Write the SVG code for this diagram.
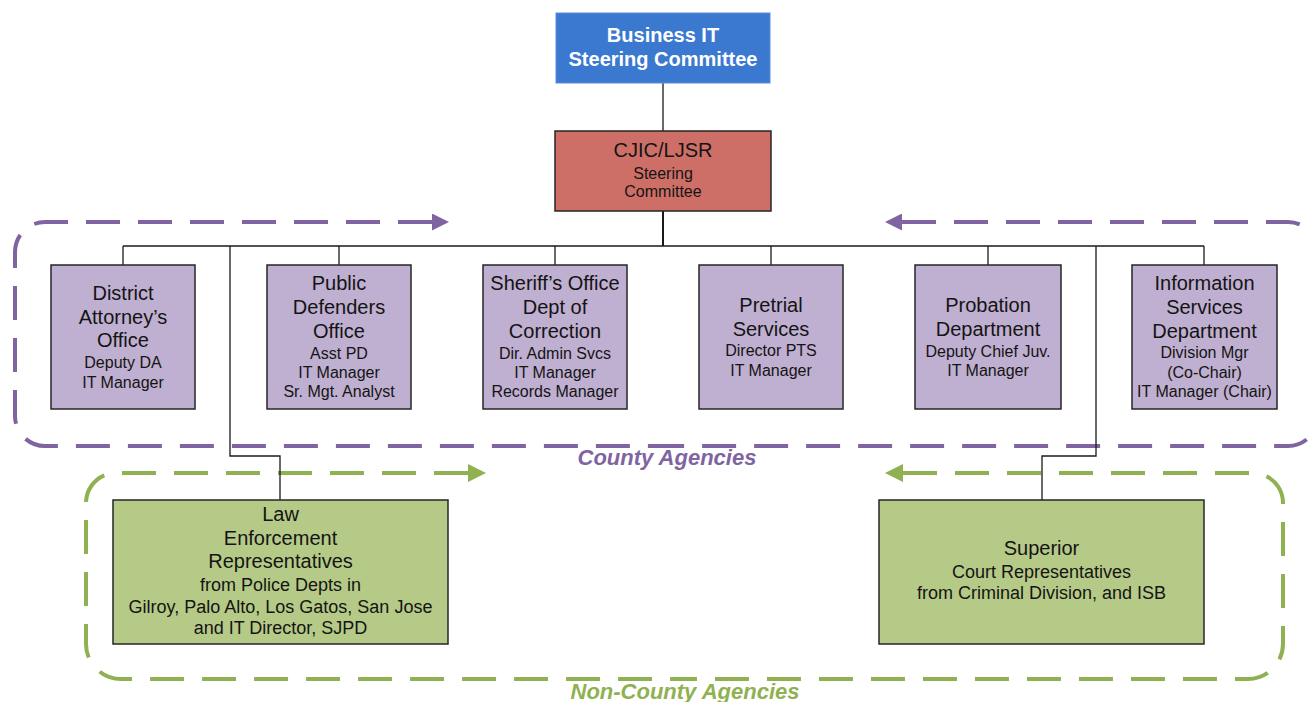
<svg xmlns="http://www.w3.org/2000/svg" width="1311" height="702" viewBox="0 0 1311 702">
  <style>
    text { font-family: "Liberation Sans", Arial, sans-serif; fill: #141414; text-anchor: middle; }
    .t { font-size: 20px; }
    .s { font-size: 16px; }
    .s18 { font-size: 18px; }
    .hd { font-size: 20px; font-weight: bold; fill: #ffffff; }
    .box { stroke: #262626; stroke-width: 1.5; }
    .agency { fill: #bfafd0; }
    .ext { fill: #b6ca87; }
    .link { fill: none; stroke: #1a1a1a; stroke-width: 1.3; }
    .loop { fill: none; stroke-width: 4; stroke-dasharray: 34 18; }
    .purple { stroke: #8064a2; }
    .green { stroke: #8fb151; }
    .lbl { font-size: 22px; font-weight: bold; font-style: italic; }
  </style>
  <defs>
    <marker id="arrowPurple" markerUnits="userSpaceOnUse" markerWidth="17" markerHeight="17" viewBox="0 0 17 17" refX="0" refY="8.5" orient="auto-start-reverse">
      <path d="M0,0 L17,8.5 L0,17 Z" fill="#8064a2"/>
    </marker>
    <marker id="arrowGreen" markerUnits="userSpaceOnUse" markerWidth="18" markerHeight="18" viewBox="0 0 18 18" refX="0" refY="9" orient="auto-start-reverse">
      <path d="M0,0 L18,9 L0,18 Z" fill="#8fb151"/>
    </marker>
  </defs>

  <rect width="1311" height="702" fill="#ffffff"/>

  <!-- circulating dashed loops around the agency groups -->
  <g id="loops">
    <path class="loop purple" marker-start="url(#arrowPurple)" d="M432 222 H45 A30 30 0 0 0 15 252 V416 A30 30 0 0 0 45 446 H667"/>
    <path class="loop purple" marker-start="url(#arrowPurple)" d="M902 222 H1288 A30 30 0 0 1 1318 252 V416 A30 30 0 0 1 1288 446 H667"/>
    <path class="loop green" marker-start="url(#arrowGreen)" d="M468 473 H116 A30 30 0 0 0 86 503 V644 A35 35 0 0 0 121 679 H685"/>
    <path class="loop green" marker-start="url(#arrowGreen)" d="M903 473 H1253 A30 30 0 0 1 1283 503 V644 A35 35 0 0 1 1248 679 H685"/>
  </g>

  <!-- org chart connectors -->
  <g id="connectors">
    <path class="link" d="M663 83 V131"/>
    <path class="link" style="stroke-width:2" d="M663 211 V246"/>
    <path class="link" d="M123 246 H1204"/>
    <path class="link" d="M123 246 V265 M339 246 V265 M555 246 V265 M771 246 V265 M988 246 V265 M1204 246 V265"/>
    <path class="link" d="M230 246 V456 H280 V500"/>
    <path class="link" d="M1096 246 V456 H1042 V500"/>
  </g>

  <g id="business-it">
    <rect x="556" y="13" width="214" height="70" fill="#3b78d0" stroke="#5a8ee0" stroke-width="1"/>
    <text class="hd" x="663" y="42">Business IT</text>
    <text class="hd" x="663" y="66">Steering Committee</text>
  </g>

  <g id="cjic">
    <rect class="box" x="555" y="131" width="216" height="80" fill="#cd6f67"/>
    <text class="t" x="663" y="157">CJIC/LJSR</text>
    <text class="s" x="663" y="179">Steering</text>
    <text class="s" x="663" y="197">Committee</text>
  </g>

  <g id="district-attorney">
    <rect class="box agency" x="51" y="265" width="144" height="144"/>
    <text class="t" x="123" y="300">District</text>
    <text class="t" x="123" y="324">Attorney’s</text>
    <text class="t" x="123" y="347">Office</text>
    <text class="s" x="123" y="368">Deputy DA</text>
    <text class="s" x="123" y="388">IT Manager</text>
  </g>

  <g id="public-defenders">
    <rect class="box agency" x="267" y="265" width="144" height="144"/>
    <text class="t" x="339" y="290">Public</text>
    <text class="t" x="339" y="314">Defenders</text>
    <text class="t" x="339" y="338">Office</text>
    <text class="s" x="339" y="359">Asst PD</text>
    <text class="s" x="339" y="378">IT Manager</text>
    <text class="s" x="339" y="397">Sr. Mgt. Analyst</text>
  </g>

  <g id="sheriff">
    <rect class="box agency" x="483" y="265" width="144" height="144"/>
    <text class="t" x="555" y="290">Sheriff’s Office</text>
    <text class="t" x="555" y="314">Dept of</text>
    <text class="t" x="555" y="338">Correction</text>
    <text class="s" x="555" y="359">Dir. Admin Svcs</text>
    <text class="s" x="555" y="378">IT Manager</text>
    <text class="s" x="555" y="397">Records Manager</text>
  </g>

  <g id="pretrial">
    <rect class="box agency" x="699" y="265" width="144" height="144"/>
    <text class="t" x="771" y="312">Pretrial</text>
    <text class="t" x="771" y="336">Services</text>
    <text class="s" x="771" y="356">Director PTS</text>
    <text class="s" x="771" y="376">IT Manager</text>
  </g>

  <g id="probation">
    <rect class="box agency" x="915" y="265" width="146" height="144"/>
    <text class="t" x="988" y="312">Probation</text>
    <text class="t" x="988" y="336">Department</text>
    <text class="s" x="988" y="357">Deputy Chief Juv.</text>
    <text class="s" x="988" y="376">IT Manager</text>
  </g>

  <g id="information-services">
    <rect class="box agency" x="1132" y="265" width="145" height="144"/>
    <text class="t" x="1204.5" y="290">Information</text>
    <text class="t" x="1204.5" y="314">Services</text>
    <text class="t" x="1204.5" y="338">Department</text>
    <text class="s" x="1204.5" y="358">Division Mgr</text>
    <text class="s" x="1204.5" y="378">(Co-Chair)</text>
    <text class="s" x="1204.5" y="397">IT Manager (Chair)</text>
  </g>

  <g id="law-enforcement">
    <rect class="box ext" x="113" y="500" width="335" height="144"/>
    <text class="t" x="280.5" y="521">Law</text>
    <text class="t" x="280.5" y="545">Enforcement</text>
    <text class="t" x="280.5" y="568">Representatives</text>
    <text class="s18" x="280.5" y="591">from Police Depts in</text>
    <text class="s18" x="280.5" y="613">Gilroy, Palo Alto, Los Gatos, San Jose</text>
    <text class="s18" x="280.5" y="634">and IT Director, SJPD</text>
  </g>

  <g id="superior-court">
    <rect class="box ext" x="879" y="500" width="325" height="144"/>
    <text class="t" x="1041.5" y="555">Superior</text>
    <text class="s18" x="1041.5" y="578">Court Representatives</text>
    <text class="s18" x="1041.5" y="599">from Criminal Division, and ISB</text>
  </g>

  <g id="group-labels">
    <text class="lbl" x="667" y="465" style="fill:#8064a2">County Agencies</text>
    <text class="lbl" x="685" y="699" style="fill:#8fb151">Non-County Agencies</text>
  </g>
</svg>
